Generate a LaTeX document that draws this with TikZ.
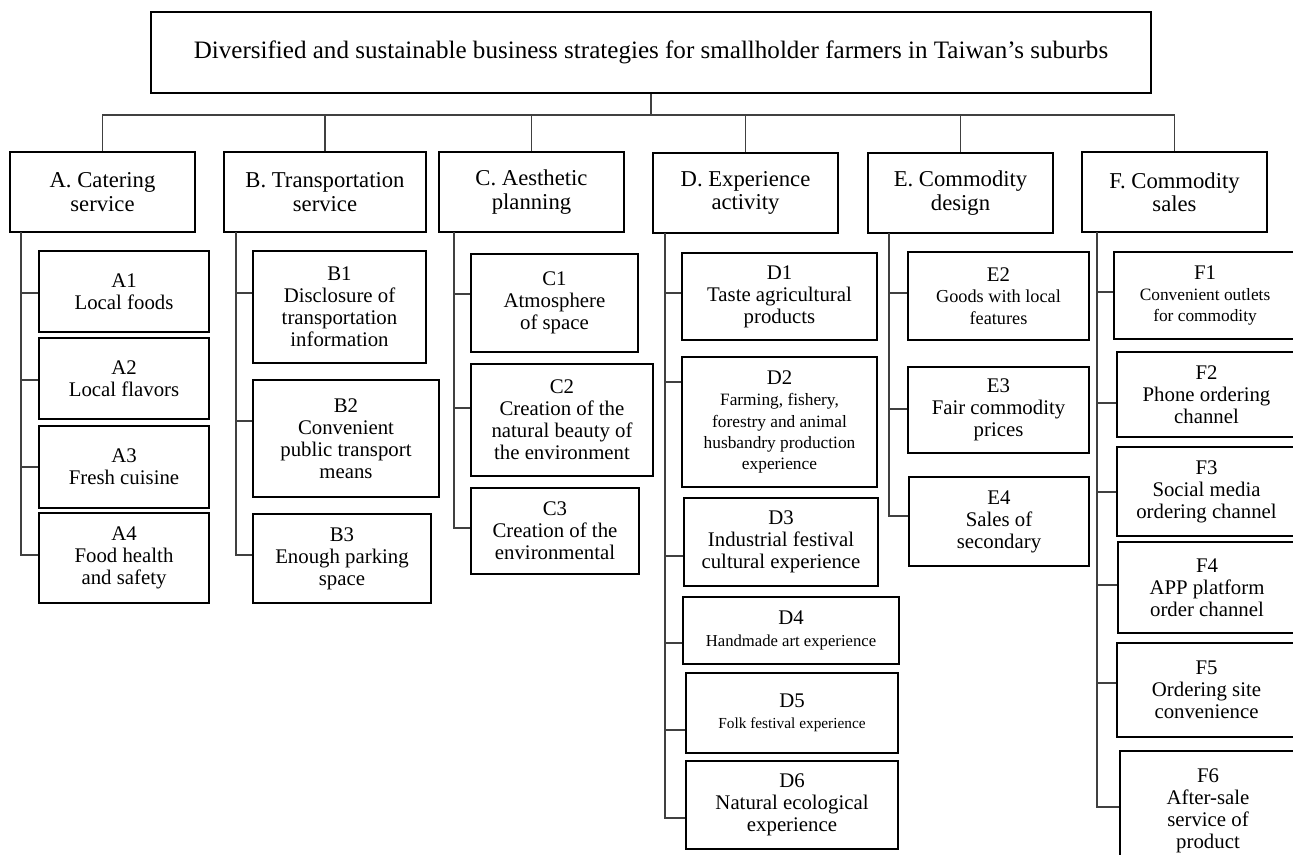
\documentclass[tikz,border=0pt]{standalone}
\usepackage{fontspec}
\setmainfont{Liberation Serif}
\usetikzlibrary{positioning}

\begin{document}
\begin{tikzpicture}[x=0.75pt,y=-0.75pt,
    wh/.style 2 args={minimum width=#1*0.75pt,minimum height=#2*0.75pt},
    topbox/.style={draw,line width=1.6pt,inner sep=0pt,font=\fontsize{18.8}{21}\selectfont},
    catbox/.style={draw,line width=1.6pt,inner sep=0pt,align=center,font=\fontsize{17}{17.5}\selectfont},
    subbox/.style={draw,line width=1.6pt,inner sep=0pt,align=center,font=\fontsize{15.6}{16.5}\selectfont},
    smalltext/.style={font=\fontsize{13}{16}\selectfont},
    link/.style={draw=black!75,line width=0.8pt}]
    \useasboundingbox (0,0) rectangle (1293,854);

    % goal
    \node[topbox,wh={1000}{81}] (top) at (651,52.5) {Diversified and sustainable business strategies for smallholder farmers in Taiwan’s suburbs};

    % dimensions
    \node[catbox,wh={185}{80}] (A) at (102.5,192) {A. Catering\\service};
    \node[catbox,wh={202}{80}] (B) at (325,192) {B. Transportation\\service};
    \node[catbox,wh={185}{80}] (C) at (531.5,192) {C. Aesthetic\\planning};
    \node[catbox,wh={185}{80}] (D) at (745.5,193) {D. Experience\\activity};
    \node[catbox,wh={185}{80}] (E) at (960.5,193) {E. Commodity\\design};
    \node[catbox,wh={185}{80}] (F) at (1174.5,192) {F. Commodity\\sales};

    \draw[link] (top.south) -- (top.south |- 0,115);
    \draw[link] (A.north) -- (A.north |- 0,115) -- (F.north |- 0,115) -- (F.north);
    \foreach \c in {B,C,D,E}
        \draw[link] (\c.north) -- (\c.north |- 0,115);

    % A. catering
    \node[subbox,wh={170}{81}] (A1) at (124,291.5) {A1\\Local foods};
    \node[subbox,wh={170}{81}] (A2) at (124,378.5) {A2\\Local flavors};
    \node[subbox,wh={170}{82}] (A3) at (124,467) {A3\\Fresh cuisine};
    \node[subbox,wh={170}{90}] (A4) at (124,558) {A4\\Food health\\and safety};

    % B. transportation
    \node[subbox,wh={173}{112}] (B1) at (339.5,307) {B1\\Disclosure of\\transportation\\information};
    \node[subbox,wh={186}{117}] (B2) at (346,438.5) {B2\\Convenient\\public transport\\means};
    \node[subbox,wh={178}{89}] (B3) at (342,558.5) {B3\\Enough parking\\space};

    % C. aesthetic
    \node[subbox,wh={167}{98}] (C1) at (554.5,303) {C1\\Atmosphere\\of space};
    \node[subbox,wh={182}{112}] (C2) at (562,420) {C2\\Creation of the\\natural beauty of\\the environment};
    \node[subbox,wh={168}{86}] (C3) at (555,531) {C3\\Creation of the\\environmental};

    % D. experience
    \node[subbox,wh={195}{87}] (D1) at (779.5,296.5) {D1\\Taste agricultural\\products};
    \node[subbox,smalltext,wh={195}{130}] (D2) at (779.5,422) {{\fontsize{15.6}{16.5}\selectfont D2}\\Farming, fishery,\\forestry and animal\\husbandry production\\experience};
    \node[subbox,wh={194}{88}] (D3) at (781,542) {D3\\Industrial festival\\cultural experience};
    \node[subbox,font=\fontsize{12.5}{16}\selectfont,wh={216}{67}] (D4) at (791,630.5) {{\fontsize{15.6}{16.5}\selectfont D4}\\Handmade art experience};
    \node[subbox,font=\fontsize{11.5}{16}\selectfont,wh={212}{80}] (D5) at (792,713) {{\fontsize{15.6}{16.5}\selectfont D5}\\Folk festival experience};
    \node[subbox,wh={212}{88}] (D6) at (792,805) {D6\\Natural ecological\\experience};

    % E. commodity design
    \node[subbox,font=\fontsize{13.7}{16}\selectfont,wh={181}{88}] (E2) at (998.5,296) {{\fontsize{15.6}{16.5}\selectfont E2}\\Goods with local\\features};
    \node[subbox,wh={181}{86}] (E3) at (998.5,410) {E3\\Fair commodity\\prices};
    \node[subbox,wh={180}{89}] (E4) at (999,521.5) {E4\\Sales of\\secondary};

    % F. commodity sales
    \node[subbox,smalltext,wh={182}{87}] (F1) at (1205,295.5) {{\fontsize{15.6}{16.5}\selectfont F1}\\Convenient outlets\\for commodity};
    \node[subbox,wh={179}{85}] (F2) at (1206.5,394.5) {F2\\Phone ordering\\channel};
    \node[subbox,wh={179}{89}] (F3) at (1206.5,491.5) {F3\\Social media\\ordering channel};
    \node[subbox,wh={178}{91}] (F4) at (1207,587.5) {F4\\APP platform\\order channel};
    \node[subbox,wh={179}{94}] (F5) at (1206.5,690) {F5\\Ordering site\\convenience};
    \node[subbox,wh={176}{119}] (F6) at (1208,810.5) {F6\\After-sale\\service of\\product};

    % spines
    \coordinate (Asp) at (21,232);
    \coordinate (Bsp) at (236,232);
    \coordinate (Csp) at (454,232);
    \coordinate (Dsp) at (665,233);
    \coordinate (Esp) at (889,233);
    \coordinate (Fsp) at (1097,232);
    \foreach \n/\h in {A1/293,A2/380,A3/467,A4/555}
        \draw[link] (Asp) |- (\n.west |- 0,\h);
    \foreach \n/\h in {B1/293,B2/421,B3/555}
        \draw[link] (Bsp) |- (\n.west |- 0,\h);
    \foreach \n/\h in {C1/294,C2/408,C3/528}
        \draw[link] (Csp) |- (\n.west |- 0,\h);
    \foreach \n/\h in {D1/293,D2/382,D3/556,D4/643,D5/730,D6/818}
        \draw[link] (Dsp) |- (\n.west |- 0,\h);
    \foreach \n/\h in {E2/293,E3/409,E4/516}
        \draw[link] (Esp) |- (\n.west |- 0,\h);
    \foreach \n/\h in {F1/292,F2/403,F3/492,F4/585,F5/683,F6/807}
        \draw[link] (Fsp) |- (\n.west |- 0,\h);
\end{tikzpicture}
\end{document}
